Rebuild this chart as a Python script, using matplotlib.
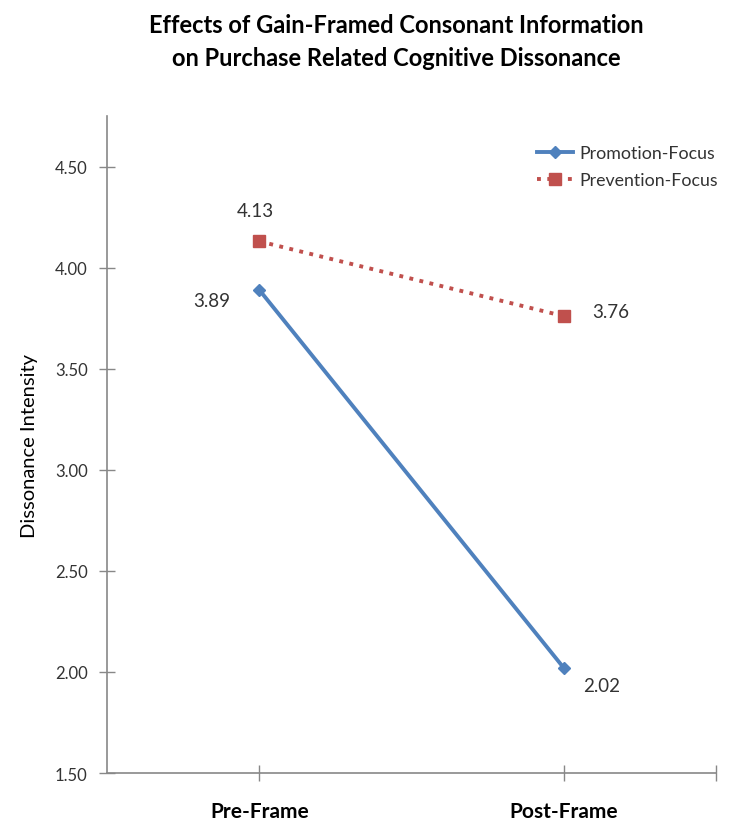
import matplotlib.pyplot as plt

# category labels and the two series
frames = ['Pre-Frame', 'Post-Frame']
promotion = [3.89, 2.02]
prevention = [4.13, 3.76]

plt.rcParams['font.family'] = ['Lato', 'DejaVu Sans']

fig = plt.figure(figsize=(7.4, 8.29), dpi=100)
ax = fig.add_axes([0.1446, 0.0663, 0.823, 0.7926])

x = list(range(len(frames)))
ax.plot(x, promotion, '-', color='#4F81BD', lw=2.8, marker='D', markersize=6,
        label='Promotion-Focus')
ax.plot(x, prevention, ':', color='#C0504D', lw=2.8, marker='s', markersize=9,
        label='Prevention-Focus')

# value labels next to each point
lab = dict(fontsize=13.5, color='#333333', ha='center', va='center',
           textcoords='offset points')
ax.annotate(f'{prevention[0]:.2f}', (x[0], prevention[0]), xytext=(-3, 22), **lab)
ax.annotate(f'{promotion[0]:.2f}', (x[0], promotion[0]), xytext=(-34, -8), **lab)
ax.annotate(f'{prevention[1]:.2f}', (x[1], prevention[1]), xytext=(34, 3), **lab)
ax.annotate(f'{promotion[1]:.2f}', (x[1], promotion[1]), xytext=(27, -13), **lab)

ax.set_xlim(-0.5, 1.5)
ax.set_ylim(1.5, 4.75)
ax.set_yticks([1.5, 2.0, 2.5, 3.0, 3.5, 4.0, 4.5])
ax.set_yticklabels([f'{v:.2f}' for v in ax.get_yticks()], fontsize=12,
                   color='#333333')
ax.set_xticks([0, 1, 1.5])
ax.set_xticklabels(frames + [''], fontsize=15, fontweight='bold')
ax.tick_params(axis='x', direction='inout', length=12, width=1, color='#888888', pad=14)
ax.tick_params(axis='y', direction='inout', length=12, width=1, color='#888888', pad=8)

for side in ['top', 'right']:
    ax.spines[side].set_visible(False)
for side in ['left', 'bottom']:
    ax.spines[side].set_color('#888888')
    ax.spines[side].set_linewidth(1.2)

ax.set_ylabel('Dissonance Intensity', fontsize=14.5, labelpad=12)

ax.legend(loc='upper right', bbox_to_anchor=(1.03, 0.98), frameon=False,
          fontsize=12.8, handlelength=2.0, labelspacing=0.6, handletextpad=0.4,
          labelcolor='#333333')

fig.text(0.535, 0.983, 'Effects of Gain-Framed Consonant Information\n'
         'on Purchase Related Cognitive Dissonance', ha='center', va='top',
         fontsize=17, fontweight='bold', linespacing=1.5)

fig.savefig('out.png', dpi=100)
